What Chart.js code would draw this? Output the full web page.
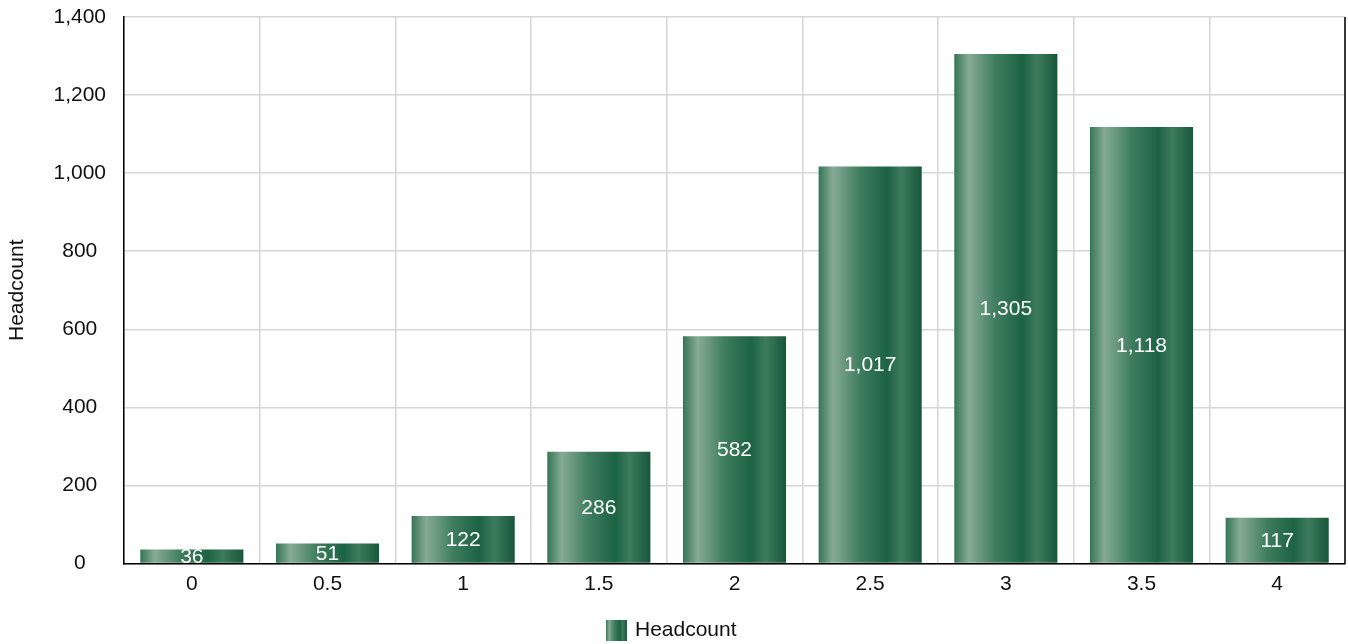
<!DOCTYPE html>
<html>
<head>
<meta charset="utf-8">
<script src="https://cdn.jsdelivr.net/npm/chart.js@4/dist/chart.umd.min.js"></script>
<style>
  html, body { margin: 0; padding: 0; background: #fff; }
  #wrap { width: 1348px; height: 644px; }
</style>
</head>
<body>
<div id="wrap"><canvas id="chart" width="1348" height="644"></canvas></div>
<script>
// データ
const categories = ['0', '0.5', '1', '1.5', '2', '2.5', '3', '3.5', '4'];
const headcount = [36, 51, 122, 286, 582, 1017, 1305, 1118, 117];
const seriesName = 'Headcount';
const yTitle = 'Headcount';

const BAR_PCT = 0.76;
const FONT = '"Liberation Sans", Arial, sans-serif';

// 横方向のグラデーション
const stops = [
  [0, '#357556'],
  [0.14, '#86ab94'],
  [0.4, '#3f7d5e'],
  [0.66, '#1b6343'],
  [0.8, '#3d7b5c'],
  [1, '#17573b']
];

function makeGradient(ctx, x0, x1) {
  const g = ctx.createLinearGradient(x0, 0, x1, 0);
  stops.forEach(s => g.addColorStop(s[0], s[1]));
  return g;
}

// 凡例用の小さなアイコン
const icon = document.createElement('canvas');
icon.width = 21;
icon.height = 21;
const ictx = icon.getContext('2d');
ictx.fillStyle = makeGradient(ictx, 0, 21);
ictx.fillRect(0, 0, 21, 21);

function barColor(context) {
  const chart = context.chart;
  const xs = chart.scales.x;
  if (!xs || !chart.chartArea) return '#2a6e4e';
  const center = xs.getPixelForValue(context.dataIndex);
  const w = (xs.width / categories.length) * BAR_PCT;
  return makeGradient(chart.ctx, center - w / 2, center + w / 2);
}

// 棒の中央に値を表示 + 右端の枠線
const valueLabels = {
  id: 'valueLabels',
  afterDatasetsDraw(chart) {
    const ctx = chart.ctx;
    const meta = chart.getDatasetMeta(0);
    const area = chart.chartArea;
    ctx.save();
    ctx.strokeStyle = '#000';
    ctx.lineWidth = 1.5;
    ctx.beginPath();
    ctx.moveTo(area.right, area.top);
    ctx.lineTo(area.right, area.bottom);
    ctx.stroke();

    ctx.fillStyle = '#ffffff';
    ctx.font = '21px ' + FONT;
    ctx.textAlign = 'center';
    ctx.textBaseline = 'middle';
    meta.data.forEach((bar, i) => {
      const y = (bar.y + bar.base) / 2 + 1;
      ctx.fillText(headcount[i].toLocaleString('en-US'), bar.x, y);
    });
    ctx.restore();
  }
};

new Chart(document.getElementById('chart').getContext('2d'), {
  type: 'bar',
  data: {
    labels: categories,
    datasets: [{
      label: seriesName,
      data: headcount,
      backgroundColor: barColor,
      borderWidth: 0,
      pointStyle: icon,
      barPercentage: BAR_PCT,
      categoryPercentage: 1
    }]
  },
  options: {
    responsive: false,
    animation: false,
    layout: { padding: { top: 17, right: 3, left: 0, bottom: -7 } },
    scales: {
      x: {
        grid: { color: '#d6d6d6', lineWidth: 1.5, drawTicks: false, offset: true },
        border: { color: '#000', width: 1.5 },
        ticks: { color: '#111', font: { family: FONT, size: 21 }, padding: 8 },
        afterFit: (s) => { s.height = 53; }
      },
      y: {
        min: 0,
        max: 1400,
        ticks: { stepSize: 200, color: '#111', font: { family: FONT, size: 21 }, padding: 18, crossAlign: 'center' },
        grid: { color: '#d6d6d6', lineWidth: 1.5, drawTicks: false },
        border: { color: '#000', width: 1.5 },
        title: { display: true, text: yTitle, color: '#111', font: { family: FONT, size: 21 }, padding: { top: 5, bottom: 0 } },
        afterFit: (s) => { s.width = 124; s.paddingTop = 0; s.paddingBottom = 0; }
      }
    },
    plugins: {
      legend: {
        position: 'bottom',
        labels: {
          usePointStyle: true,
          pointStyleWidth: 16,
          color: '#111',
          font: { family: FONT, size: 21 },
          padding: 3.5
        }
      },
      tooltip: { enabled: false }
    }
  },
  plugins: [valueLabels]
});
</script>
</body>
</html>
